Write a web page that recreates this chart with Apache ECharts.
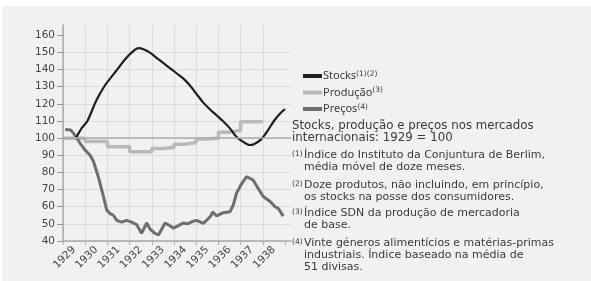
<!DOCTYPE html>
<html>
<head>
<meta charset="utf-8">
<script src="https://cdn.jsdelivr.net/npm/echarts@6/dist/echarts.min.js"></script>
<style>
  html, body { margin: 0; padding: 0; background: #fff; }
  #chart { width: 591px; height: 281px; }
</style>
</head>
<body>
<div id="chart"></div>
<script>
// anos (eixo x) e ticks
var years = [1929, 1930, 1931, 1932, 1933, 1934, 1935, 1936, 1937, 1938];
var yearEdges = [1929, 1930, 1931, 1932, 1933, 1934, 1935, 1936, 1937, 1938, 1939];
var yTicks = [40, 50, 60, 70, 80, 90, 100, 110, 120, 130, 140, 150, 160];

// Stocks (1)(2)
var stocksX = [1929.6, 1929.85, 1930.1, 1930.5, 1930.9, 1931.2, 1931.5, 1931.8, 1932.1, 1932.4,
  1932.6, 1932.9, 1933.2, 1933.5, 1933.8, 1934.1, 1934.4, 1934.7, 1935.0, 1935.3,
  1935.6, 1935.9, 1936.2, 1936.5, 1936.8, 1937.1, 1937.4, 1937.6, 1937.9, 1938.2,
  1938.5, 1938.75, 1939.0];
var stocksY = [100.5, 106, 110, 122, 131, 136, 141, 146, 150, 152.5,
  152, 150, 147, 144, 141, 138, 135, 131, 126, 121,
  117, 113.5, 110, 106, 101, 98, 96, 96.5, 99, 104,
  110, 114, 117];

// Produção (3)
var prodX = [1929.0, 1929.5, 1930.0, 1930.5, 1931.0, 1931.5, 1932.0, 1932.5, 1933.0, 1933.5,
  1934.0, 1934.5, 1935.0, 1935.5, 1936.0, 1936.5, 1937.0, 1937.5, 1938.0];
var prodY = [100, 100, 98, 98, 95, 95, 92, 92, 94, 94.5,
  96.5, 97.5, 99.5, 100, 103.5, 104.5, 109.5, 109.5, 109.5];

// Preços (4)
var pricesX = [1929.1, 1929.35, 1929.55, 1929.77, 1930.0, 1930.22, 1930.37, 1930.6, 1930.82, 1930.97,
  1931.12, 1931.27, 1931.42, 1931.64, 1931.87, 1932.09, 1932.32, 1932.54, 1932.77, 1932.92,
  1933.14, 1933.3, 1933.6, 1933.8, 1933.97, 1934.2, 1934.42, 1934.6, 1934.8, 1935.02,
  1935.32, 1935.54, 1935.68, 1935.74, 1935.92, 1936.22, 1936.52, 1936.67, 1936.82, 1937.05,
  1937.27, 1937.42, 1937.57, 1937.8, 1938.02, 1938.33, 1938.55, 1938.7, 1938.92];
var pricesY = [105, 104.8, 101.5, 97, 93, 90, 86.5, 77, 66, 58,
  56, 55, 52, 51, 52, 51, 49.5, 44.5, 50.5, 47,
  44.5, 43.5, 50.5, 49, 47.5, 49, 50.5, 50, 51.2, 52,
  50.3, 53, 55, 57, 54.6, 56.5, 57, 61, 68, 73.5,
  77.5, 76.5, 75.5, 70.5, 66, 63, 60, 59, 54.5];

// textos das notas
var title = ['Stocks, produção e preços nos mercados', 'internacionais: 1929 = 100'];
var notes = [
  ['(1)', ['Índice do Instituto da Conjuntura de Berlim,', 'média móvel de doze meses.']],
  ['(2)', ['Doze produtos, não incluindo, em princípio,', 'os stocks na posse dos consumidores.']],
  ['(3)', ['Índice SDN da produção de mercadoria', 'de base.']],
  ['(4)', ['Vinte géneros alimentícios e matérias-primas', 'industriais. Índice baseado na média de', '51 divisas.']]
];
var noteTops = [149, 179, 207, 237];

function pairs(xs, ys) {
  return xs.map(function (x, i) { return [x, ys[i]]; });
}

var txt = '#3a3a3a';
var fnt = '"DejaVu Sans", sans-serif';
var fntLeg = '"Noto Sans", sans-serif';
var rich = {
  t: { fontSize: 11, color: txt, fontFamily: fntLeg, lineHeight: 12 },
  s: { fontSize: 7.5, color: txt, fontFamily: fnt, verticalAlign: 'top', lineHeight: 12 }
};

var graphics = [
  { type: 'rect', left: 2, top: 6, z: -10,
    shape: { width: 589, height: 275 }, style: { fill: '#f1f1f1' } },
  { type: 'text', left: 292, top: 120,
    style: { text: title.join('\n'), font: '11.8px ' + fnt, fill: txt, lineHeight: 12 } }
];
notes.forEach(function (n, i) {
  graphics.push({ type: 'text', left: 292, top: noteTops[i] + 1,
    style: { text: n[0], font: '7.5px ' + fnt, fill: txt } });
  graphics.push({ type: 'text', left: 304, top: noteTops[i],
    style: { text: n[1].join('\n'), font: '11px ' + fnt, fill: txt, lineHeight: 12 } });
});

var chart = echarts.init(document.getElementById('chart'), null, { renderer: 'canvas' });

var option = {
  backgroundColor: '#fff',
  animation: false,
  graphic: graphics,
  legend: {
    orient: 'vertical',
    left: 303,
    top: 70,
    padding: 0,
    icon: 'rect',
    itemWidth: 19,
    itemHeight: 4,
    itemGap: 5,
    selectedMode: false,
    data: ['Stocks', 'Produção', 'Preços'],
    formatter: function (name) {
      var sup = { 'Stocks': '(1)(2)', 'Produção': '(3)', 'Preços': '(4)' }[name];
      return '{t|' + name + '}{s|' + sup + '}';
    },
    textStyle: { padding: [0, 0, 0, -4], rich: rich }
  },
  grid: { left: 63, right: 300, top: 25, bottom: 40 },
  xAxis: {
    type: 'value',
    min: 1929,
    max: 1939.27,
    interval: 1,
    axisLine: { show: true, lineStyle: { color: '#a8a8a8', width: 1.5 } },
    axisTick: { show: true, length: 4, customValues: yearEdges, lineStyle: { color: '#b0b0b0' } },
    splitLine: { show: true, showMaxLine: false, lineStyle: { color: '#dcdcdc', width: 1 } },
    axisLabel: {
      customValues: years.map(function (y) { return y + 0.5; }),
      formatter: function (v) { return String(Math.floor(v)); },
      rotate: 45,
      margin: 7,
      fontSize: 10.5,
      color: '#444',
      fontFamily: fnt
    }
  },
  yAxis: {
    type: 'value',
    min: 40,
    max: 166,
    interval: 10,
    axisLine: { show: true, lineStyle: { color: '#a8a8a8', width: 1.5 } },
    axisTick: { show: true, length: 6, customValues: yTicks, lineStyle: { color: '#999' } },
    splitLine: { show: true, showMaxLine: false, lineStyle: { color: '#dcdcdc', width: 1 } },
    axisLabel: {
      customValues: yTicks,
      margin: 8,
      fontSize: 10.5,
      color: '#444',
      fontFamily: fnt
    }
  },
  series: [
    {
      name: 'Produção',
      type: 'line',
      step: 'end',
      color: '#b9b9b9',
      showSymbol: false,
      lineStyle: { width: 3.5, color: '#b9b9b9' },
      data: pairs(prodX, prodY),
      markLine: {
        silent: true,
        symbol: 'none',
        label: { show: false },
        lineStyle: { color: '#acacac', width: 1.5, type: 'solid' },
        data: [{ yAxis: 100 }]
      },
      z: 2
    },
    {
      name: 'Preços',
      type: 'line',
      color: '#6e6e6e',
      showSymbol: false,
      lineStyle: { width: 3, color: '#6e6e6e' },
      data: pairs(pricesX, pricesY),
      z: 3
    },
    {
      name: 'Stocks',
      type: 'line',
      smooth: 0.3,
      color: '#1e1e1e',
      showSymbol: false,
      lineStyle: { width: 2.2, color: '#1e1e1e' },
      data: pairs(stocksX, stocksY),
      z: 4
    }
  ]
};

chart.setOption(option);
</script>
</body>
</html>
